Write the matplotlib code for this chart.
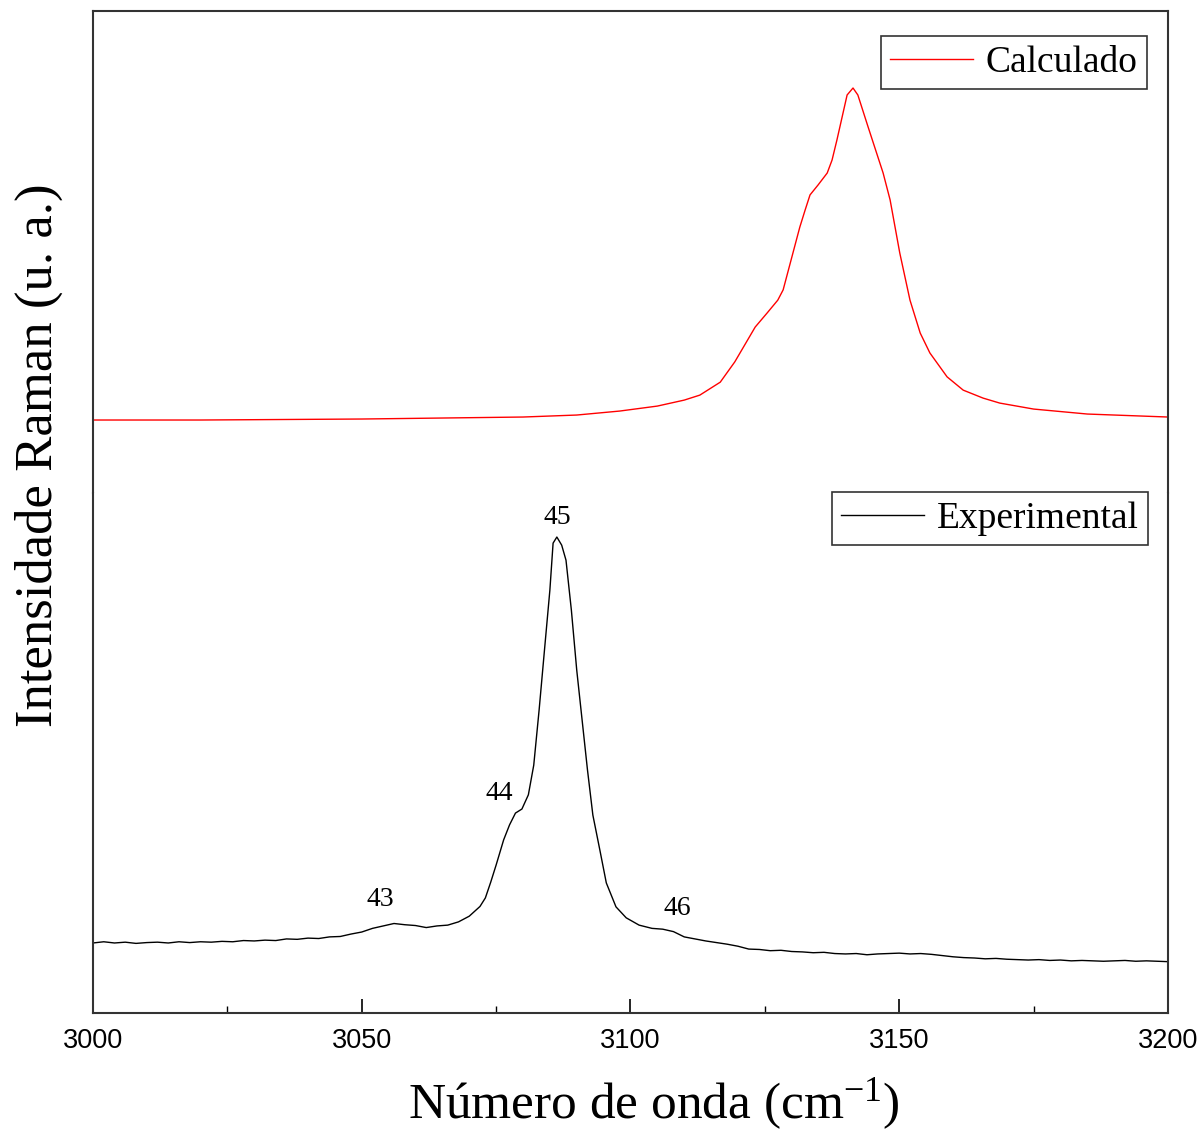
import numpy as np
import matplotlib.pyplot as plt

plt.rcParams['font.family'] = 'Liberation Serif'
plt.rcParams['mathtext.fontset'] = 'custom'
plt.rcParams['mathtext.rm'] = 'Liberation Serif'
plt.rcParams['mathtext.it'] = 'Liberation Serif:italic'

# Calculated spectrum (a.u., baseline ~0, peak 1)
calc_x = [3000, 3020, 3050, 3080, 3090, 3098, 3105, 3110, 3112.9, 3116.7,
          3119.4, 3123.2, 3125.4, 3127.4, 3128.4, 3131.5, 3132.5, 3133.4, 3134.9, 3136.6,
          3137.5, 3138.4, 3140.3, 3141.4, 3142.3, 3144.2, 3147.0, 3148.3, 3150.1, 3152.0,
          3153.9, 3155.7, 3158.9, 3161.9, 3165.6, 3168.7, 3175, 3185, 3200]
calc_y = [0.000, 0.000, 0.003, 0.009, 0.015, 0.027, 0.042, 0.060, 0.075, 0.114,
          0.175, 0.280, 0.322, 0.361, 0.392, 0.581, 0.633, 0.678, 0.708, 0.744,
          0.783, 0.843, 0.979, 1.000, 0.979, 0.883, 0.744, 0.663, 0.503, 0.361,
          0.262, 0.202, 0.130, 0.090, 0.066, 0.051, 0.033, 0.018, 0.009]

# Experimental spectrum (a.u.)
exp_x = [3000, 3002, 3004, 3006, 3008, 3010, 3012, 3014, 3016, 3018,
         3020, 3022, 3024, 3026, 3028, 3030, 3032, 3034, 3036, 3038,
         3040, 3042, 3044, 3046, 3048, 3050, 3052, 3054, 3056, 3058,
         3060, 3062, 3064, 3066, 3068, 3070, 3072, 3073, 3074, 3075,
         3076.4, 3077.5, 3078.6, 3079.8, 3081, 3082, 3083, 3084, 3085, 3085.6,
         3086.3, 3087.2, 3088, 3089, 3090, 3091, 3092, 3093, 3094.3, 3095.5,
         3097.3, 3099.2, 3101.6, 3104, 3106, 3108, 3110, 3112, 3114, 3116,
         3118, 3120, 3122, 3124, 3126, 3128, 3130, 3132, 3134, 3136,
         3138, 3140, 3142, 3144, 3146, 3148, 3150, 3152, 3154, 3156,
         3158, 3160, 3162, 3164, 3166, 3168, 3170, 3172, 3174, 3176,
         3178, 3180, 3182, 3184, 3186, 3188, 3190, 3192, 3194, 3196,
         3198, 3200]
exp_y = [0.000, 0.003, 0.000, 0.002, -0.001, 0.001, 0.002, 0.000, 0.003, 0.001,
         0.003, 0.002, 0.004, 0.003, 0.006, 0.005, 0.007, 0.006, 0.010, 0.009,
         0.012, 0.011, 0.015, 0.016, 0.022, 0.027, 0.036, 0.042, 0.048, 0.045,
         0.043, 0.038, 0.042, 0.044, 0.052, 0.066, 0.090, 0.111, 0.150, 0.192,
         0.254, 0.291, 0.320, 0.330, 0.365, 0.438, 0.574, 0.722, 0.869, 0.985,
         1.000, 0.980, 0.943, 0.820, 0.672, 0.549, 0.426, 0.315, 0.229, 0.148,
         0.089, 0.062, 0.044, 0.036, 0.034, 0.028, 0.015, 0.010, 0.005, 0.001,
         -0.003, -0.008, -0.015, -0.016, -0.019, -0.018, -0.021, -0.022, -0.024, -0.023,
         -0.026, -0.027, -0.026, -0.029, -0.027, -0.026, -0.025, -0.027, -0.026, -0.028,
         -0.031, -0.034, -0.036, -0.037, -0.039, -0.038, -0.040, -0.041, -0.042, -0.041,
         -0.043, -0.042, -0.044, -0.043, -0.044, -0.045, -0.044, -0.043, -0.045, -0.044,
         -0.045, -0.046]

# band labels (mode number, wavenumber, intensity)
band_labels = ['43', '44', '45', '46']
band_x = [3053.4, 3075.5, 3086.3, 3108.7]
band_y = [0.106, 0.369, 1.049, 0.084]

fig = plt.figure(figsize=(12.03, 11.36), dpi=100)
ax_top = fig.add_axes([0.0773, 0.566, 0.8936, 0.4243])
ax_bot = fig.add_axes([0.0773, 0.1083, 0.8936, 0.4577])

ax_top.plot(calc_x, calc_y, color='red', lw=1.0, label='Calculado')
ax_bot.plot(exp_x, exp_y, color='black', lw=1.0, label='Experimental')

for ax in (ax_top, ax_bot):
    ax.set_xlim(3000, 3200)
    ax.set_yticks([])
    for s in ax.spines.values():
        s.set_linewidth(1.5)
        s.set_color('#333333')

ax_top.set_ylim(-0.2199, 1.2319)
ax_bot.set_ylim(-0.1724, 1.1084)

ax_top.spines['bottom'].set_visible(False)
ax_top.set_xticks([])
ax_bot.spines['top'].set_visible(False)

ax_bot.set_xticks([3000, 3050, 3100, 3150, 3200])
ax_bot.set_xticks([3025, 3075, 3125, 3175], minor=True)
ax_bot.tick_params(axis='x', which='major', direction='in', length=10, width=1.2,
                   pad=11, labelsize=19.5, labelfontfamily='Liberation Sans')
ax_bot.tick_params(axis='x', which='minor', direction='in', length=5, width=1.0)

for lab, bx, by in zip(band_labels, band_x, band_y):
    ax_bot.text(bx, by, lab, fontsize=20, ha='center', va='center')

fig.text(0.5436, 0.0282, r'Número de onda (cm$^{\mathrm{-1}}$)', fontsize=37,
         ha='center', va='center')
fig.text(0.032, 0.5995, 'Intensidade Raman (u. a.)', fontsize=38, rotation=90,
         ha='center', va='center')

leg_kw = dict(loc='upper right', fontsize=27, fancybox=False, framealpha=1,
              edgecolor='#333333', handlelength=2.2, handletextpad=0.35,
              borderpad=0.25, borderaxespad=0, bbox_transform=fig.transFigure)
l1 = ax_top.legend(bbox_to_anchor=(0.9534, 0.9683), **leg_kw)
l2 = ax_bot.legend(bbox_to_anchor=(0.9543, 0.5669), **leg_kw)
for l in (l1, l2):
    l.get_frame().set_linewidth(1.2)

fig.savefig('out.png', dpi=100)
